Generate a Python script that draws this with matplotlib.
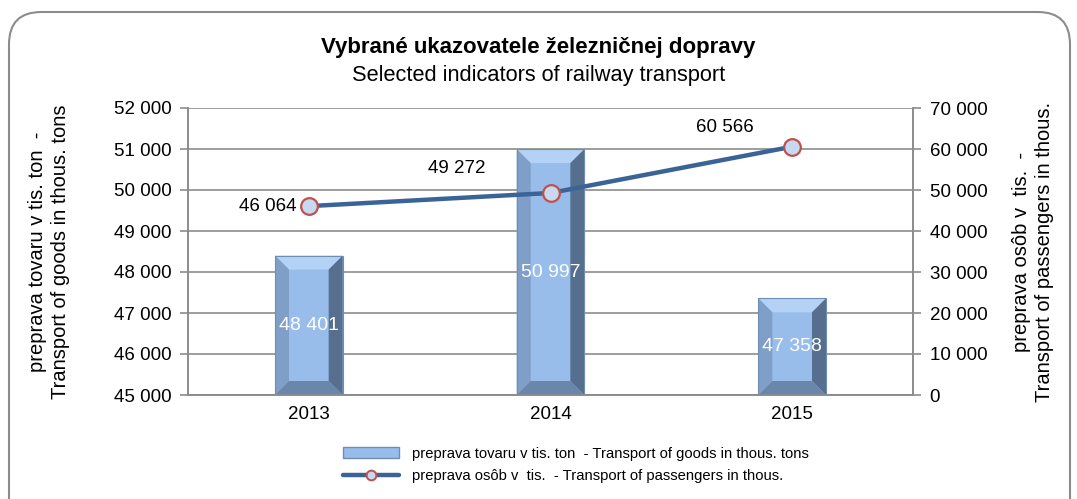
import numpy as np
import matplotlib
matplotlib.use('Agg')
import matplotlib.pyplot as plt
from matplotlib.patches import Polygon, Rectangle, FancyBboxPatch, Patch
from matplotlib.lines import Line2D
from matplotlib.ticker import FuncFormatter

plt.rcParams['font.family'] = ['Liberation Sans', 'DejaVu Sans']

years = ['2013', '2014', '2015']
goods = [48401, 50997, 47358]          # thous. tons (left axis)
passengers = [46064, 49272, 60566]     # thous. (right axis)

title = 'Vybrané ukazovatele železničnej dopravy'
subtitle = 'Selected indicators of railway transport'
left_label = 'preprava tovaru v tis. ton  -\nTransport of goods in thous. tons'
right_label = 'preprava osôb v  tis.  -\nTransport of passengers in thous.'
goods_legend = 'preprava tovaru v tis. ton  - Transport of goods in thous. tons'
pass_legend = 'preprava osôb v  tis.  - Transport of passengers in thous.'

W, H = 1077, 499
fig = plt.figure(figsize=(W / 100, H / 100), dpi=100)

# rounded outer frame
frame = FancyBboxPatch((9 / W, -0.1), 1 - 16 / W, 1.1 - 12 / H,
                       boxstyle='round,pad=0,rounding_size=0.03',
                       transform=fig.transFigure, fc='none', ec='#8c8c8c', lw=1.5,
                       mutation_aspect=W / H, zorder=-5)
fig.patches.append(frame)

ax_l, ax_r, ax_b, ax_t = 188, 913, 395, 108
ax = fig.add_axes([ax_l / W, 1 - ax_b / H, (ax_r - ax_l) / W, (ax_b - ax_t) / H])
ax.set_facecolor('none')
ax2 = ax.twinx()

x = np.arange(len(years))
ax.set_xlim(-0.5, len(years) - 0.5)
ax.set_ylim(45000, 52000)
ax2.set_ylim(0, 70000)
ax.set_yticks(np.arange(45000, 52001, 1000))
ax2.set_yticks(np.arange(0, 70001, 10000))

fmt = FuncFormatter(lambda v, p: f'{int(v):,}'.replace(',', ' '))
ax.yaxis.set_major_formatter(fmt)
ax2.yaxis.set_major_formatter(fmt)

ax.yaxis.grid(True, color='#8c8c8c', lw=1.2)
ax.set_axisbelow(True)

# bevelled bars
bw = 0.28
px_x = (ax.get_xlim()[1] - ax.get_xlim()[0]) / (ax_r - ax_l)
px_y = (ax.get_ylim()[1] - ax.get_ylim()[0]) / (ax_b - ax_t)
bev = 14
y0 = ax.get_ylim()[0]
for xi, v in zip(x, goods):
    l, r = xi - bw / 2, xi + bw / 2
    dx, dy = bev * px_x, bev * px_y
    ax.add_patch(Rectangle((l, y0), bw, v - y0, fc='#98bdeb', ec='none', zorder=2))
    ax.add_patch(Polygon([(l, v), (r, v), (r - dx, v - dy), (l + dx, v - dy)],
                         fc='#b3d2f5', ec='none', zorder=3))
    ax.add_patch(Polygon([(l, y0), (l, v), (l + dx, v - dy), (l + dx, y0 + dy)],
                         fc='#7f9fc8', ec='none', zorder=3))
    ax.add_patch(Polygon([(r, y0), (r, v), (r - dx, v - dy), (r - dx, y0 + dy)],
                         fc='#566f8f', ec='none', zorder=3))
    ax.add_patch(Polygon([(l, y0), (r, y0), (r - dx, y0 + dy), (l + dx, y0 + dy)],
                         fc='#6a86ab', ec='none', zorder=3))
    ax.add_patch(Rectangle((l, y0), bw, v - y0, fc='none', ec='#6d8db3', lw=0.8, zorder=4))
    ax.text(xi, (v + y0) / 2, f'{v:,}'.replace(',', ' '), ha='center', va='center',
            color='white', fontsize=14, zorder=5)

# passenger line
ax2.plot(x, passengers, color='#3a6496', lw=3.2, marker='o', ms=12,
         mfc='#c6d9f1', mec='#c0504d', mew=1.6, zorder=6, solid_capstyle='round')
offsets = [(-0.17, 0), (-0.39, 5900), (-0.28, 4600)]
for xi, v, (ox, oy) in zip(x, passengers, offsets):
    ax2.text(xi + ox, v + oy, f'{v:,}'.replace(',', ' '), ha='center', va='center',
             fontsize=13.5, color='black')

ax.set_xticks(x)
ax.set_xticklabels(years)
for a in (ax, ax2):
    for s in a.spines.values():
        s.set_color('#8c8c8c')
        s.set_linewidth(1.2)
    a.spines['top'].set_visible(False)
ax.tick_params(axis='y', colors='#8c8c8c', labelcolor='black', labelsize=13.5, length=6, width=1.2, pad=6)
ax2.tick_params(axis='y', colors='#8c8c8c', labelcolor='black', labelsize=13.5, length=6, width=1.2, pad=6)
ax.tick_params(axis='x', length=0, labelsize=13.5, pad=8)

fig.text(49 / W, 1 - 252 / H, left_label, rotation=90, ha='center', va='center',
         fontsize=14.5, linespacing=1.3)
fig.text(1033 / W, 1 - 252 / H, right_label, rotation=90, ha='center', va='center',
         fontsize=14.5, linespacing=1.3)

fig.text(0.5, 1 - 47 / H, title, ha='center', va='center', fontsize=16, fontweight='bold')
fig.text(0.5, 1 - 75 / H, subtitle, ha='center', va='center', fontsize=15.7)

handles = [Patch(fc='#98bdeb', ec='#6d8db3'),
           Line2D([], [], color='#3a6496', lw=3.2, marker='o', ms=7,
                  mfc='#c6d9f1', mec='#c0504d', mew=1.4, solid_capstyle='round')]
fig.legend(handles, [goods_legend, pass_legend], loc='center left',
           bbox_to_anchor=(330 / W, 1 - 465 / H), frameon=False, fontsize=10.6,
           handlelength=3.8, handleheight=0.7, handletextpad=0.9, labelspacing=0.6)

fig.savefig('out.png', dpi=100)
